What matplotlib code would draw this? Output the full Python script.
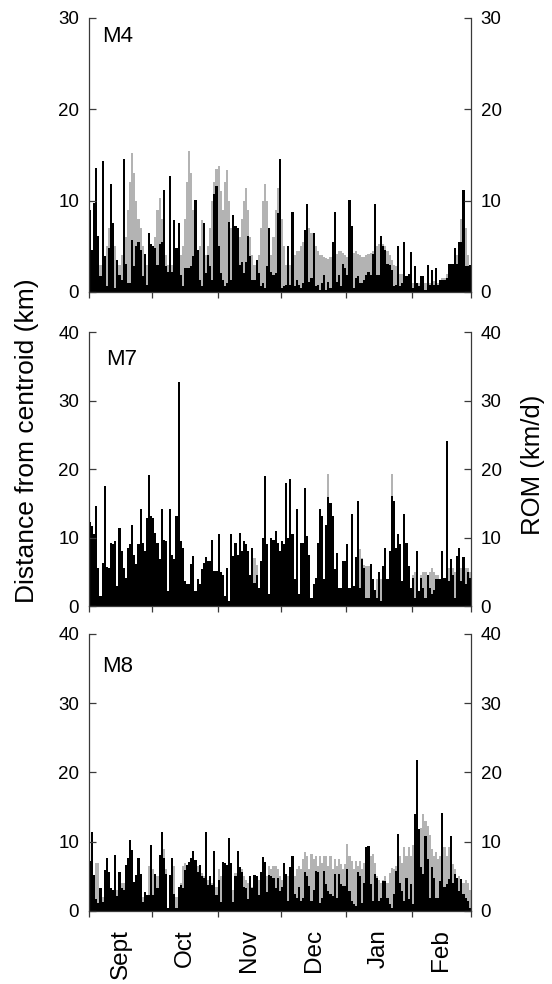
import matplotlib
matplotlib.use('Agg')
import matplotlib.pyplot as plt
import numpy as np

plt.rcParams['font.family'] = ['Liberation Sans', 'DejaVu Sans']

months = ['Sept', 'Oct', 'Nov', 'Dec', 'Jan', 'Feb']
month_days = [30, 31, 30, 31, 31, 28]

# M4: distance from centroid (grey) and ROM (black), one value per day
m4_dist = [3, 3, 4, 4, 3, 3, 3, 3, 5, 7,
           8, 7, 5, 3, 3, 4, 5, 6, 9, 12,
           15.2, 13, 10, 8, 7, 5, 4, 3, 3, 3,
           3, 6, 9, 10.3, 8, 5, 4, 3, 3, 3,
           3, 4, 4, 4, 5, 8, 12, 15.4, 13, 9,
           6, 4, 5, 7.9, 6, 4, 5, 7, 10, 12,
           13.5, 13.8, 11, 9, 12, 13.4, 10, 7, 5, 4,
           4, 6, 8, 10, 11.4, 9, 6, 4, 3, 3,
           4, 7, 10, 11.8, 10, 7, 4, 6, 9, 11.4,
           11, 8, 5, 3, 2.5, 3, 3.5, 4, 4.5, 4.5,
           5, 5.5, 6, 6.8, 7, 6.5, 6, 5, 4.5, 4,
           4, 3.8, 3.7, 3.6, 3.8, 4, 4, 4.2, 4.5, 4.5,
           4.3, 4, 3.8, 3.8, 4, 4.3, 4.5, 4.2, 4, 3.8,
           3.8, 4, 4.2, 4.3, 4.5, 4.8, 5, 5.3, 5.5, 5.3,
           5, 4.5, 4, 3.5, 3, 2.8, 2.5, 2, 2, 1.8,
           1.5, 1.2, 1, 1, 1, 1, 1, 0.8, 0.8, 1,
           1, 1, 1.2, 1.2, 1, 1, 1.2, 1.5, 1.5, 2,
           2, 2.5, 3, 3.5, 4, 5, 8, 10.3, 7, 4, 3]
m4_rom = [9.0, 4.6, 9.7, 13.6, 6.1, 1.7, 14.3, 3.9, 0.6, 4.8,
          11.8, 7.5, 0.4, 3.5, 1.9, 1.3, 14.5, 3.1, 1.0, 1.0,
          5.7, 2.8, 5.0, 5.5, 4.6, 1.7, 4.2, 0.8, 6.4, 5.2,
          5.0, 4.8, 3.0, 5.3, 5.5, 11.2, 2.8, 2.2, 12.7, 2.2,
          7.9, 4.8, 7.5, 1.9, 0.6, 2.6, 2.6, 2.6, 2.8, 3.9,
          10.1, 4.6, 1.3, 0.6, 7.5, 2.1, 4.1, 2.8, 1.3, 10.7,
          11.6, 5.0, 2.1, 1.3, 0.6, 1.0, 7.7, 1.3, 8.4, 7.2,
          7.0, 3.0, 3.3, 2.1, 3.3, 6.1, 3.9, 1.3, 1.3, 3.5,
          2.1, 0.6, 1.0, 0.4, 2.8, 7.0, 2.2, 1.9, 2.1, 8.6,
          14.5, 0.4, 0.6, 0.8, 5.0, 0.8, 8.8, 0.6, 1.3, 0.8,
          0.4, 1.0, 6.8, 9.6, 1.1, 1.5, 6.5, 0.6, 0.8, 0.2,
          1.0, 1.9, 0.2, 1.1, 0.4, 5.5, 8.8, 1.1, 1.9, 0.6,
          3.1, 2.6, 1.9, 10.1, 7.2, 0.4, 1.5, 1.7, 1.0, 1.0,
          1.3, 1.9, 2.2, 1.9, 4.2, 9.6, 1.9, 1.9, 6.1, 5.0,
          4.6, 3.1, 3.0, 2.4, 0.6, 0.8, 5.0, 0.6, 1.0, 5.5,
          1.7, 2.0, 4.4, 0.4, 2.8, 1.0, 0.6, 1.7, 1.7, 0.2,
          3.0, 0.8, 2.4, 0.8, 2.6, 0.8, 1.3, 1.3, 1.3, 1.5,
          3.1, 3.1, 3.1, 4.8, 3.1, 5.5, 5.5, 11.2, 2.8, 2.8, 3.0]

# M7
m7_dist = [8, 8, 7, 6, 4, 1, 4, 6, 4, 4,
           6, 6, 6, 2, 6, 6, 4, 3, 6, 6,
           7, 6, 5, 6, 8, 7, 6, 8, 9, 9,
           9, 8, 7, 5, 7, 7, 6, 2, 6, 5,
           5, 7, 9, 7, 6, 3, 3, 3, 4, 5,
           2, 3, 3, 4, 5, 5, 5, 5, 5, 4,
           4, 5, 4, 4, 1.2, 4, 0.5, 6, 6, 6,
           6, 7, 6, 6, 6, 6, 4, 7, 7, 6,
           2.5, 6, 7, 7, 7, 1.5, 7, 7, 7, 7,
           7, 7, 6, 6, 6, 6, 6, 3.5, 6, 1.5,
           6, 6, 6, 6, 6, 1, 3, 4, 6, 8,
           9, 3.5, 10, 19.3, 12, 6, 5, 6, 2.5, 2.5,
           6, 6.5, 6.5, 2.5, 7, 2.8, 7, 8, 8.3, 7,
           6, 5.8, 5.8, 5.5, 3.9, 2.4, 4, 4.5, 4, 5,
           6, 3.9, 8, 19.3, 14, 8, 8, 7, 3.5, 7,
           6, 5, 2.7, 4.5, 5, 5, 2.2, 4.5, 5, 5,
           4.6, 5, 5.5, 5, 4.5, 4.5, 4, 5, 4.1, 5,
           5.5, 5.6, 5.6, 5, 5.5, 5.6, 5.6, 5.6, 5.5, 5.6, 5]
m7_rom = [12.2, 11.7, 10.5, 14.6, 5.6, 1.5, 6.3, 17.5, 5.7, 5.6,
          9.2, 9.0, 9.5, 2.9, 11.4, 8.0, 5.6, 4.1, 8.5, 9.1,
          11.9, 7.5, 6.1, 9.0, 14.1, 9.2, 8.0, 12.9, 19.1, 13.1,
          12.9, 10.7, 9.2, 6.8, 14.1, 9.7, 9.5, 2.2, 14.1, 7.5,
          6.8, 13.1, 32.7, 9.5, 8.5, 3.6, 3.2, 3.2, 6.1, 7.3,
          2.2, 3.9, 3.2, 5.4, 6.3, 7.1, 6.6, 6.6, 9.7, 5.1,
          5.1, 10.5, 4.9, 4.6, 1.5, 5.6, 0.7, 10.5, 7.3, 9.2,
          7.5, 10.7, 8.0, 9.5, 9.0, 8.0, 4.6, 8.5, 3.4, 4.6,
          2.7, 6.6, 10.0, 19.0, 9.0, 1.7, 10.0, 9.7, 10.9, 9.2,
          8.0, 9.5, 9.0, 18.0, 10.0, 18.5, 10.5, 3.9, 14.1, 1.7,
          9.2, 9.2, 17.3, 10.2, 7.5, 1.2, 3.2, 4.1, 9.2, 14.1,
          13.1, 3.9, 11.9, 15.9, 15.1, 13.1, 5.4, 7.8, 2.7, 2.7,
          6.6, 6.6, 9.0, 2.7, 13.4, 2.9, 7.1, 15.3, 2.7, 6.8,
          5.6, 1.2, 1.2, 6.1, 3.9, 2.4, 1.2, 4.9, 0.7, 5.8,
          8.5, 3.9, 8.0, 16.1, 15.3, 8.5, 10.5, 9.0, 3.6, 13.4,
          9.2, 5.8, 2.7, 4.1, 1.2, 8.0, 2.2, 4.1, 2.7, 1.2,
          4.6, 2.7, 1.7, 2.4, 3.9, 3.9, 3.9, 8.0, 4.1, 24.1,
          3.6, 6.8, 4.6, 1.2, 7.3, 8.5, 3.6, 7.1, 3.2, 4.9, 4.1]

# M8
m8_dist = [5, 6, 4, 7, 7, 3, 2, 4, 6, 5,
           3, 3, 6, 3, 5, 4, 4, 5, 6, 8,
           7, 4, 4, 6, 4, 2, 2, 2, 6.5, 6.5,
           6, 4, 5, 3, 6, 9, 6, 0.3, 4, 6,
           6.5, 2, 0.3, 4, 6.5, 7, 6, 6, 6.5, 7,
           6, 6.5, 6, 5.5, 5, 6, 4.5, 4.5, 4, 5,
           3.5, 6, 5, 5, 4, 5, 7, 6, 3, 5.5,
           5, 5, 6, 5, 4.5, 4, 4, 3.5, 4, 4.5,
           4.5, 4.5, 4, 2.5, 5, 6.5, 6, 6.5, 6.5, 6,
           5, 4.5, 5, 4, 5, 5.5, 4, 5, 6, 6.5,
           6, 7.5, 8.5, 8, 6, 8.2, 7.5, 8, 6.5, 8,
           7, 8, 7.9, 6.5, 7.9, 6, 7.5, 6.5, 7.5, 6.8,
           6, 6.8, 9.7, 8, 7.2, 6, 7.2, 6.5, 7.2, 6,
           7, 7.5, 8.3, 8, 8.3, 7, 5, 4.5, 4, 4.5,
           5, 4, 5.5, 6.2, 6, 6.5, 9.6, 8, 7, 9.2,
           8, 9.2, 8, 9.5, 10, 9, 7, 12, 14, 13,
           12.3, 11, 9, 8, 8.5, 7.5, 8, 7, 9.2, 8,
           9.2, 7, 6.8, 6, 4.5, 5, 4.5, 4, 4.5, 4, 3]
m8_rom = [7.2, 11.4, 5.2, 1.8, 1.1, 3.3, 1.3, 5.9, 7.6, 5.7,
          3.3, 3.0, 8.1, 2.1, 5.7, 3.3, 3.0, 6.6, 7.6, 10.2,
          8.8, 4.2, 5.2, 7.6, 5.4, 1.3, 2.8, 2.3, 2.3, 9.6,
          2.3, 5.4, 3.3, 8.1, 11.4, 7.6, 5.4, 0.4, 5.2, 7.6,
          2.5, 0.4, 3.5, 3.8, 3.3, 5.9, 6.6, 7.1, 7.6, 8.6,
          7.4, 5.7, 6.7, 5.0, 4.7, 11.4, 3.8, 5.0, 3.8, 8.6,
          2.3, 4.5, 1.3, 7.1, 6.9, 6.6, 10.5, 6.9, 1.3, 5.0,
          8.6, 6.4, 5.7, 3.5, 3.3, 1.8, 5.0, 3.3, 5.2, 5.0,
          2.3, 5.7, 7.8, 7.1, 2.8, 5.2, 5.0, 4.8, 3.3, 4.8,
          2.9, 3.4, 6.9, 5.3, 1.4, 6.3, 8.0, 2.4, 1.9, 3.4,
          1.4, 1.9, 5.6, 5.1, 3.6, 1.4, 3.1, 5.8, 5.6, 1.2,
          1.9, 5.8, 3.9, 2.9, 2.4, 2.2, 5.3, 1.9, 5.3, 3.9,
          3.6, 3.6, 6.0, 2.9, 1.4, 1.0, 0.7, 5.6, 5.1, 1.2,
          4.1, 9.2, 9.4, 3.9, 1.4, 5.3, 4.8, 1.4, 1.9, 4.3,
          4.3, 1.9, 1.0, 0.5, 2.4, 5.8, 11.1, 4.1, 2.9, 1.4,
          4.8, 1.7, 3.9, 1.0, 14.0, 21.8, 11.8, 6.3, 5.3, 10.9,
          7.5, 1.9, 6.3, 4.8, 1.9, 1.9, 4.3, 14.2, 3.4, 3.9,
          4.6, 10.9, 4.1, 5.3, 4.8, 2.9, 4.6, 2.4, 1.9, 1.4, 0.5]

panels = [('M4', m4_dist, m4_rom, 30, (0.035, 0.972)),
          ('M7', m7_dist, m7_rom, 40, (0.045, 0.938)),
          ('M8', m8_dist, m8_rom, 40, (0.035, 0.922))]
rects = [[0.161, 0.7033, 0.692, 0.2785],
         [0.161, 0.3841, 0.692, 0.2785],
         [0.161, 0.0742, 0.692, 0.2815]]

grey = '#b3b3b3'
spine_col = '#3a3a3a'
ndays = sum(month_days)
bounds = np.concatenate([[0], np.cumsum(month_days)])
centres = (bounds[:-1] + bounds[1:]) / 2.0

fig = plt.figure(figsize=(5.52, 9.84), dpi=100)

for (name, dist, rom, top, lpos), rect in zip(panels, rects):
    ax = fig.add_axes(rect)
    x = np.arange(len(dist))
    ax.bar(x, dist, width=1.0, align='edge', color=grey, linewidth=0)
    x = np.arange(len(rom))
    ax.bar(x, rom, width=1.0, align='edge', color='black', linewidth=0)
    ax.set_xlim(0, ndays)
    ax.set_ylim(0, top)
    ax.set_yticks(np.arange(0, top + 1, 10))
    ax.spines['top'].set_visible(False)
    for s in ['left', 'right', 'bottom']:
        ax.spines[s].set_color(spine_col)
        ax.spines[s].set_linewidth(0.9)
    ax.tick_params(axis='y', which='both', left=True, right=True,
                   labelleft=True, labelright=True, direction='in',
                   length=5, width=0.9, color=spine_col, labelsize=13.5, pad=7)
    ax.set_xticks(bounds)
    ax.set_xticklabels([])
    ax.tick_params(axis='x', which='major', direction='out', length=4,
                   width=0.9, color=spine_col)
    ax.set_xticks(centres, minor=True)
    if name == 'M8':
        ax.set_xticklabels(months, minor=True, rotation=90, fontsize=17.5)
        ax.tick_params(axis='x', which='minor', length=0, pad=13)
    else:
        ax.tick_params(axis='x', which='minor', length=0, labelbottom=False)
    ax.text(lpos[0], lpos[1], name, transform=ax.transAxes, fontsize=16,
            ha='left', va='top')

fig.text(0.049, 0.552, 'Distance from centroid (km)', rotation=90,
         ha='center', va='center', fontsize=19)
fig.text(0.966, 0.528, 'ROM (km/d)', rotation=90,
         ha='center', va='center', fontsize=18.5)

fig.savefig('out.png', dpi=100)
